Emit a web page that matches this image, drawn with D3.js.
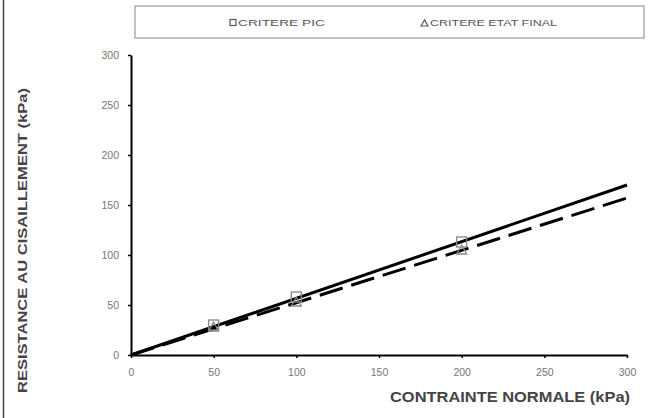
<!DOCTYPE html>
<html><head><meta charset="utf-8">
<script src="https://cdn.jsdelivr.net/npm/d3@7"></script>
<style>body{margin:0;background:#fff}svg{display:block;font-family:Arial,"Liberation Sans",sans-serif}</style>
</head><body><svg id="c" width="651" height="418"></svg>
<script>
const xTicks = [0,50,100,150,200,250,300];
const yTicks = [0,50,100,150,200,250,300];
const picX = [0,50,100,200];
const picY = [0,30,58,113];
const picLine = [[0,0],[300,170]];
const finX = [0,50,100,200];
const finY = [0,28,53,105];
const finLine = [[0,0],[300,157]];
const legendLabels = ["CRITERE PIC","CRITERE ETAT FINAL"];
const xTitle = "CONTRAINTE NORMALE (kPa)";
const yTitle = "RESISTANCE AU CISAILLEMENT (kPa)";

const svg = d3.select("#c");
const x = d3.scaleLinear().domain([0,300]).range([131,627]);
const y = d3.scaleLinear().domain([0,300]).range([355,55]);

// frame line at left
svg.append("line").attr("x1",3.5).attr("x2",3.5).attr("y1",0).attr("y2",418).attr("stroke","#444").attr("stroke-width",1.5);

// legend
svg.append("rect").attr("x",135).attr("y",6).attr("width",509).attr("height",32).attr("fill","#fff").attr("stroke","#999").attr("stroke-width",1.2);
const lg = svg.append("g").attr("font-size",8.5).attr("fill","#555");
lg.append("rect").attr("x",230).attr("y",19.5).attr("width",6).attr("height",6).attr("fill","none").attr("stroke","#555").attr("stroke-width",1.2);
lg.append("text").attr("x",238).attr("y",26).attr("textLength",87).attr("lengthAdjust","spacingAndGlyphs").text(legendLabels[0]);
lg.append("path").attr("d","M421,26 L424.5,20 L428,26 Z").attr("fill","none").attr("stroke","#555").attr("stroke-width",1.2);
lg.append("text").attr("x",430).attr("y",26).attr("textLength",127).attr("lengthAdjust","spacingAndGlyphs").text(legendLabels[1]);

// axes
const gx = svg.append("g").attr("transform","translate(0,355)")
  .call(d3.axisBottom(x).tickValues(xTicks).tickSize(3).tickSizeOuter(0));
const gy = svg.append("g").attr("transform","translate(131,0)")
  .call(d3.axisLeft(y).tickValues(yTicks).tickSize(3).tickSizeOuter(0));
[gx,gy].forEach(g=>{
  g.select(".domain").attr("stroke","#000").attr("stroke-width",2);
  g.selectAll(".tick line").attr("stroke","#000").attr("stroke-width",1.5);
  g.selectAll(".tick text").attr("fill","#777").attr("font-size",10.5).attr("font-family","Arial,sans-serif");
});
gx.selectAll(".tick text").attr("dy","1.4em");
gy.selectAll(".tick text").attr("dx","-6");

// lines
const line = d3.line().x(d=>x(d[0])).y(d=>y(d[1]));
svg.append("path").datum(picLine).attr("d",line).attr("stroke","#000").attr("stroke-width",3).attr("fill","none");
svg.append("path").datum(finLine).attr("d",line).attr("stroke","#000").attr("stroke-width",3).attr("fill","none").attr("stroke-dasharray","24,9");

// markers
picX.forEach((v,i)=>{ if(i===0) return;
  svg.append("rect").attr("x",x(v)-5).attr("y",y(picY[i])-5).attr("width",10).attr("height",10)
    .attr("fill","none").attr("stroke","#888").attr("stroke-width",1.3);
});
finX.forEach((v,i)=>{ if(i===0) return;
  const cx=x(v), cy=y(finY[i]);
  svg.append("path").attr("d",`M${cx-5},${cy+4} L${cx},${cy-5} L${cx+5},${cy+4} Z`)
    .attr("fill","none").attr("stroke","#888").attr("stroke-width",1.3);
});

// titles
svg.append("text").attr("x",390).attr("y",402).attr("textLength",240).attr("lengthAdjust","spacingAndGlyphs")
  .attr("font-size",14).attr("font-weight","bold").attr("fill","#444").text(xTitle);
svg.append("text").attr("transform","translate(27,393) rotate(-90)").attr("textLength",305).attr("lengthAdjust","spacingAndGlyphs")
  .attr("font-size",12).attr("font-weight","bold").attr("fill","#444").text(yTitle);
</script></body></html>
